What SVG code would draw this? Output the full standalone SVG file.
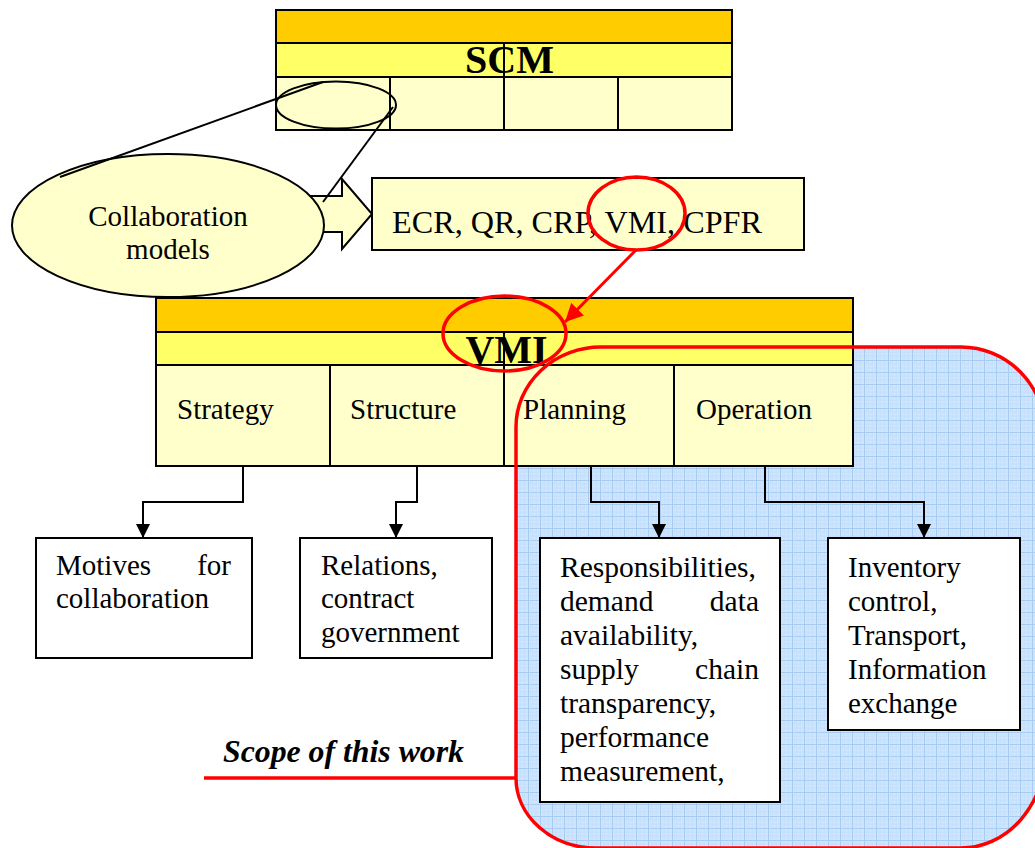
<svg xmlns="http://www.w3.org/2000/svg" width="1035" height="848" viewBox="0 0 1035 848">
  <defs>
    <style>
      text { font-family: "Liberation Serif", "Times New Roman", serif; fill: #000; }
      .t { font-size: 29px; }
      .title { font-size: 40px; font-weight: bold; }
      .band1 { fill: #ffcc00; stroke: #000; stroke-width: 2; }
      .band2 { fill: #ffff66; stroke: #000; stroke-width: 2; }
      .cell { fill: #ffffcc; stroke: #000; stroke-width: 2; }
      .box { fill: #fff; stroke: #000; stroke-width: 2; }
      .div { stroke: #000; stroke-width: 2; }
      .conn { fill: none; stroke: #000; stroke-width: 2; }
      .red { fill: none; stroke: #ff0000; stroke-width: 3.5; }
    </style>
    <pattern id="grid" width="12" height="12" patternUnits="userSpaceOnUse">
      <rect width="12" height="12" fill="#cfe5fd"/>
      <path d="M4 0V12M8 0V12M0 4H12M0 8H12" stroke="#bcdafa" stroke-width="1" stroke-dasharray="1 1"/>
      <path d="M0 0.5H12M0.5 0V12" stroke="#a6ccf4" stroke-width="1"/>
    </pattern>
    <marker id="arrow" viewBox="0 0 10 10" refX="10" refY="5" markerWidth="14" markerHeight="14" markerUnits="userSpaceOnUse" orient="auto">
      <path d="M0 0L10 5L0 10Z" fill="#000"/>
    </marker>
    <marker id="redArrow" viewBox="0 0 10 10" refX="10" refY="5" markerWidth="6" markerHeight="6" orient="auto">
      <path d="M0 0L10 5L0 10Z" fill="#ff0000"/>
    </marker>
  </defs>

  <!-- scope area fill (under the tables) -->
  <path id="scope-fill" d="M601 347H961A85 88 0 0 1 1046 435V750A85 98 0 0 1 961 848H596A80 70 0 0 1 516 778V427A85 80 0 0 1 601 347Z" fill="url(#grid)"/>

  <!-- SCM table -->
  <g id="scm">
    <rect class="band1" x="276" y="10" width="456" height="33"/>
    <rect class="band2" x="276" y="43" width="456" height="34"/>
    <rect class="cell" x="276" y="77" width="456" height="53"/>
    <line class="div" x1="390" y1="77" x2="390" y2="130"/>
    <line class="div" x1="618" y1="77" x2="618" y2="130"/>
    <text class="title" x="509.5" y="73" text-anchor="middle">SCM</text>
    <line class="div" x1="504" y1="43" x2="504" y2="130"/>
    <ellipse cx="336" cy="105" rx="60" ry="23.5" fill="none" stroke="#000" stroke-width="2"/>
  </g>

  <!-- block arrow from collaboration models -->
  <g id="block-arrow">
    <polygon points="300,196 342,196 342,179 372,214 342,249 342,232 300,232" fill="#ffffcc" stroke="#000" stroke-width="2"/>
  </g>

  <!-- collaboration models -->
  <g id="collab">
    <ellipse cx="168" cy="225.5" rx="156" ry="71.5" fill="#ffffcc" stroke="#000" stroke-width="2"/>
    <text class="t" x="168" y="226" text-anchor="middle">Collaboration</text>
    <text class="t" x="168" y="259" text-anchor="middle">models</text>
  </g>

  <!-- zoom lines from SCM cell -->
  <g id="zoom-lines">
    <line x1="60" y1="177" x2="323" y2="82" stroke="#000" stroke-width="2"/>
    <line x1="393" y1="107" x2="323" y2="202" stroke="#000" stroke-width="2"/>
  </g>

  <!-- models list -->
  <g id="models">
    <rect x="372" y="178" width="432" height="72" fill="#ffffcc" stroke="#000" stroke-width="2"/>
    <text x="392" y="233" font-size="31" textLength="370" lengthAdjust="spacingAndGlyphs">ECR, QR, CRP, VMI, CPFR</text>
  </g>

  <!-- VMI table -->
  <g id="vmi">
    <rect class="band1" x="156" y="298" width="697" height="34"/>
    <rect class="band2" x="156" y="332" width="697" height="33"/>
    <rect class="cell" x="156" y="365" width="697" height="101"/>
    <line class="div" x1="330" y1="365" x2="330" y2="466"/>
    <line class="div" x1="674" y1="365" x2="674" y2="466"/>
    <text class="title" x="506.5" y="363" text-anchor="middle">VMI</text>
    <line class="div" x1="504" y1="332" x2="504" y2="466"/>
    <text class="t" x="177" y="419">Strategy</text>
    <text class="t" x="350" y="419">Structure</text>
    <text class="t" x="523" y="419">Planning</text>
    <text class="t" x="696" y="419">Operation</text>
  </g>

  <!-- connectors -->
  <g id="connectors">
    <polyline class="conn" points="243,466 243,502 143,502 143,538" marker-end="url(#arrow)"/>
    <polyline class="conn" points="417,466 417,502 396,502 396,538" marker-end="url(#arrow)"/>
    <polyline class="conn" points="591,466 591,502 659,502 659,538" marker-end="url(#arrow)"/>
    <polyline class="conn" points="765,466 765,502 924,502 924,538" marker-end="url(#arrow)"/>
    <line x1="636" y1="250" x2="565" y2="322" stroke="#ff0000" stroke-width="3" marker-end="url(#redArrow)"/>
  </g>

  <!-- detail boxes -->
  <g id="motives">
    <rect class="box" x="36" y="538" width="216" height="120"/>
    <text class="t" x="56" y="575">Motives</text>
    <text class="t" x="231" y="575" text-anchor="end">for</text>
    <text class="t" x="56" y="608">collaboration</text>
  </g>
  <g id="relations">
    <rect class="box" x="300" y="538" width="192" height="120"/>
    <text class="t" x="321" y="575">Relations,</text>
    <text class="t" x="321" y="608">contract</text>
    <text class="t" x="321" y="642">government</text>
  </g>
  <g id="responsibilities" font-size="29.5">
    <rect class="box" x="540" y="538" width="240" height="264"/>
    <text x="560" y="577">Responsibilities,</text>
    <text x="560" y="611">demand</text>
    <text x="759" y="611" text-anchor="end">data</text>
    <text x="560" y="645">availability,</text>
    <text x="560" y="679">supply</text>
    <text x="759" y="679" text-anchor="end">chain</text>
    <text x="560" y="713">transparency,</text>
    <text x="560" y="747">performance</text>
    <text x="560" y="781">measurement,</text>
  </g>
  <g id="inventory">
    <rect class="box" x="828" y="538" width="192" height="192"/>
    <text class="t" x="848" y="577">Inventory</text>
    <text class="t" x="848" y="611">control,</text>
    <text class="t" x="848" y="645">Transport,</text>
    <text class="t" x="848" y="679">Information</text>
    <text class="t" x="848" y="713">exchange</text>
  </g>

  <!-- highlights -->
  <g id="highlights">
    <ellipse class="red" cx="636.5" cy="213.5" rx="48.5" ry="36.5"/>
    <ellipse class="red" cx="504.5" cy="333.5" rx="61.5" ry="37.5"/>
  </g>

  <!-- scope outline and label -->
  <g id="scope">
    <path class="red" stroke-width="4" d="M601 347H961A85 88 0 0 1 1046 435V750A85 98 0 0 1 961 848H596A80 70 0 0 1 516 778V427A85 80 0 0 1 601 347Z"/>
    <line x1="204" y1="778" x2="516" y2="778" stroke="#ff0000" stroke-width="3.5"/>
    <text x="223" y="762" font-size="31" font-weight="bold" font-style="italic" textLength="241" lengthAdjust="spacingAndGlyphs">Scope of this work</text>
  </g>
</svg>
